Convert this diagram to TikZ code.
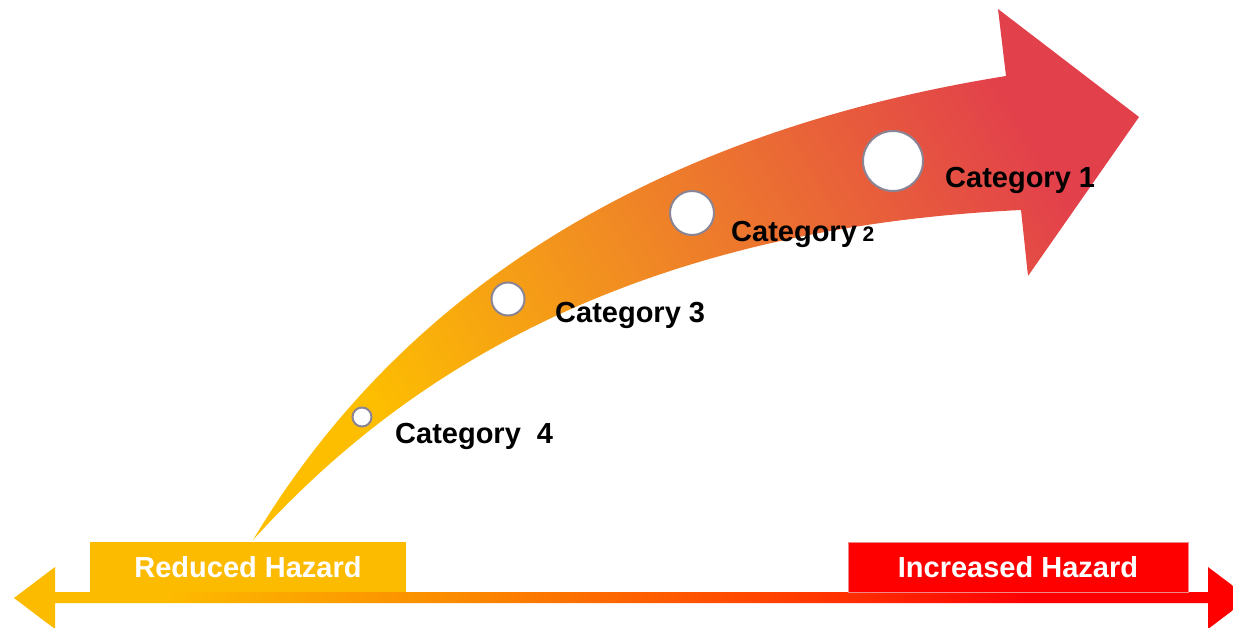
\documentclass[tikz,border=0pt]{standalone}
\usepackage{fontspec}
\setmainfont{Liberation Sans}

\definecolor{hzyellow}{HTML}{FDBE00}
\definecolor{hzorange}{HTML}{F18C22}
\definecolor{hzred}{HTML}{E2404B}
\definecolor{baryellow}{HTML}{FDBB00}
\definecolor{barorange}{HTML}{FB8A00}
\definecolor{barflame}{HTML}{FF4000}
\definecolor{barred}{HTML}{FF0000}
\definecolor{dotrim}{HTML}{8A8494}
\definecolor{boxrim}{HTML}{F08888}

\pgfdeclarehorizontalshading{hazardflow}{100bp}{color(0bp)=(hzyellow); color(27bp)=(hzyellow); color(46bp)=(hzorange); color(74bp)=(hzred); color(100bp)=(hzred)}
\pgfdeclarehorizontalshading{hazardbar}{100bp}{color(0bp)=(baryellow); color(31bp)=(baryellow); color(43bp)=(barorange); color(56bp)=(barflame); color(66bp)=(barred); color(100bp)=(barred)}

\tikzset{
  catdot/.style={circle, draw=dotrim, line width=2pt, fill=white, inner sep=0pt},
  catlabel/.style={anchor=base west, inner sep=0pt, font=\fontsize{29}{34}\selectfont\bfseries},
  hazardbox/.style={minimum height=50pt, inner sep=0pt, text=white, font=\fontsize{29}{34}\selectfont\bfseries}
}

\begin{document}
\begin{tikzpicture}[x=1pt, y=-1pt]

        \clip (0,0) rectangle (1233,628);

        % Rising arrow
        \shade[shading=hazardflow, shading angle=30]
                (253,540) .. controls (420,260) and (700,125) .. (1006,76)
                -- (998,9) -- (1139,117) -- (1028,276) -- (1021,210)
                .. controls (600,230) and (380,400) .. (253,540) -- cycle;

        % Hazard axis
        \shade[shading=hazardbar]
                (14,598) -- (55,567) -- (55,592) -- (1208,592) -- (1208,567)
                -- (1249,598) -- (1208,629) -- (1208,603) -- (55,603) -- (55,629) -- cycle;

        % Axis labels
        \node[hazardbox, fill=baryellow, minimum width=316pt] (reduced) at (248,567) {Reduced Hazard};
        \node[hazardbox, fill=barred, draw=boxrim, line width=0.8pt, minimum width=340pt] (increased) at (1018,567) {Increased Hazard};

        % Category markers
        \node[catdot, minimum size=19pt] (cat4) at (362,417) {};
        \node[catdot, minimum size=33pt] (cat3) at (508,299) {};
        \node[catdot, minimum size=44pt] (cat2) at (692,213) {};
        \node[catdot, minimum size=60pt] (cat1) at (893,161) {};

        % Category labels
        \node[catlabel] (cat4text) at (395,443) {Category\ \ 4};
        \node[catlabel] (cat3text) at (555,322) {Category 3};
        \node[catlabel] (cat2text) at (731,241) {Category{\fontsize{21}{24}\selectfont\ 2}};
        \node[catlabel] (cat1text) at (945,188) {Category 1};

\end{tikzpicture}
\end{document}
